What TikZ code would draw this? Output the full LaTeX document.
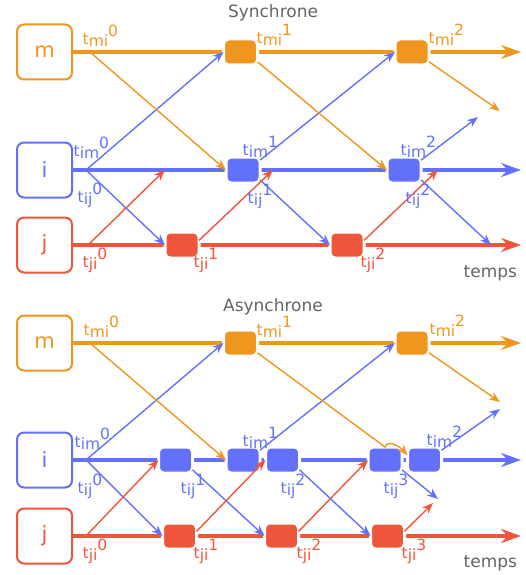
\documentclass[tikz,border=0pt]{standalone}
\usepackage{fontspec}
\setmainfont{DejaVu Sans}
\usetikzlibrary{arrows.meta}
\definecolor{orng}{RGB}{239,150,30}
\definecolor{blu}{RGB}{99,113,250}
\definecolor{rd}{RGB}{238,85,59}
\definecolor{gry}{RGB}{100,100,100}
\newcommand{\tlbl}[2]{t\raisebox{-2pt}{#1}\raisebox{8pt}{#2}}

\begin{document}
\begin{tikzpicture}[->,>={Stealth[length=11pt,width=8.5pt,inset=3.5pt]},x=1pt,y=-1pt,
                    line width=1.4pt]
  \tikzstyle{proc}=[draw,line width=2pt,fill=white,rounded corners=7pt,
                    minimum size=55pt,font=\fontsize{21}{25}\selectfont]
  \tikzstyle{evt}=[draw=white,line width=3pt,rounded corners=5pt,outer sep=0pt,
                   minimum width=34pt,minimum height=26pt,inner sep=0pt]
  \tikzstyle{tline}=[line width=4pt,-{Stealth[length=20pt,width=14pt,inset=7pt]}]
  \tikzstyle{lbl}=[anchor=base west,inner sep=0pt,font=\fontsize{15.5}{18}\selectfont]
  \tikzstyle{ttl}=[text=gry,inner sep=0pt,font=\fontsize{17}{20}\selectfont]

  \useasboundingbox (0,0) rectangle (526,575);

  % Synchrone
  \node[ttl,anchor=base]          (stitle) at (273,18)   {Synchrone};
  \node[proc,draw=orng,text=orng] (sm)     at (44.5,52)  {m};
  \node[proc,draw=blu,text=blu]   (si)     at (44.5,170) {i};
  \node[proc,draw=rd,text=rd]     (sj)     at (44.5,245) {j};
  \node[ttl,anchor=base west]     (stemps) at (463,277)  {temps};

  \coordinate (smE) at (521,52);
  \coordinate (siE) at (521,170);
  \coordinate (sjE) at (521,245);
  \draw[tline,orng] (sm) -- (smE);
  \draw[tline,blu]  (si) -- (siE);
  \draw[tline,rd]   (sj) -- (sjE);

  \node[evt,fill=orng] (sm1) at (240.5,52) {};
  \node[evt,fill=orng] (sm2) at (412,52)   {};
  \node[evt,fill=blu]  (si1) at (243,170)  {};
  \node[evt,fill=blu]  (si2) at (404,170)  {};
  \node[evt,fill=rd]   (sj1) at (182,245)  {};
  \node[evt,fill=rd]   (sj2) at (347,245)  {};

  \coordinate (sm0) at (90,52);
  \coordinate (si0) at (86,170);
  \coordinate (sj0) at (88,245);
  \coordinate (sia) at (165,170);
  \coordinate (sib) at (273,170);
  \coordinate (sic) at (438,170);
  \coordinate (smx) at (500,111);
  \coordinate (six) at (478,117);
  \coordinate (sjx) at (491,245);

  \path[blu] (si0)     edge (sm1.west)
                       edge (sj1.west)
             (si1.30)  edge (sm2.west)
             (si1.330) edge (sj2.west)
             (si2.30)  edge (six)
             (si2.330) edge (sjx);
  \path[orng] (sm0)     edge (si1.west)
              (sm1.330) edge (si2.west)
              (sm2.330) edge (smx);
  \path[rd] (sj0)    edge (sia)
            (sj1.15) edge (sib)
            (sj2.15) edge (sic);

  \node[lbl,text=orng] (lsmi0) at (82,45)   {\tlbl{mi}{0}};
  \node[lbl,text=orng] (lsmi1) at (256,44)  {\tlbl{mi}{1}};
  \node[lbl,text=orng] (lsmi2) at (428,44)  {\tlbl{mi}{2}};
  \node[lbl,text=blu]  (lsim0) at (73,156)  {\tlbl{im}{0}};
  \node[lbl,text=blu]  (lsij0) at (77,202)  {\tlbl{ij}{0}};
  \node[lbl,text=blu]  (lsim1) at (242,155) {\tlbl{im}{1}};
  \node[lbl,text=blu]  (lsij1) at (247,203) {\tlbl{ij}{1}};
  \node[lbl,text=blu]  (lsim2) at (400,155) {\tlbl{im}{2}};
  \node[lbl,text=blu]  (lsij2) at (405,203) {\tlbl{ij}{2}};
  \node[lbl,text=rd]   (lsji0) at (82,267)  {\tlbl{ji}{0}};
  \node[lbl,text=rd]   (lsji1) at (193,267) {\tlbl{ji}{1}};
  \node[lbl,text=rd]   (lsji2) at (360,267) {\tlbl{ji}{2}};

  % Asynchrone
  \node[ttl,anchor=base]          (atitle) at (273,311)  {Asynchrone};
  \node[proc,draw=orng,text=orng] (am)     at (44.5,343) {m};
  \node[proc,draw=blu,text=blu]   (ai)     at (44.5,460) {i};
  \node[proc,draw=rd,text=rd]     (aj)     at (44.5,536) {j};
  \node[ttl,anchor=base west]     (atemps) at (463,567)  {temps};

  \coordinate (amE) at (521,343);
  \coordinate (aiE) at (521,460);
  \coordinate (ajE) at (521,536);
  \draw[tline,orng] (am) -- (amE);
  \draw[tline,blu]  (ai) -- (aiE);
  \draw[tline,rd]   (aj) -- (ajE);

  \node[evt,fill=orng] (am1) at (240.5,343) {};
  \node[evt,fill=orng] (am2) at (412,343)   {};
  \node[evt,fill=blu]  (ai1) at (175.5,460) {};
  \node[evt,fill=blu]  (ai2) at (243,460)   {};
  \node[evt,fill=blu]  (ai3) at (282.5,460) {};
  \node[evt,fill=blu]  (ai4) at (385,460)   {};
  \node[evt,fill=blu]  (ai5) at (424.5,460) {};
  \node[evt,fill=rd]   (aj1) at (179.5,536) {};
  \node[evt,fill=rd]   (aj2) at (281.5,536) {};
  \node[evt,fill=rd]   (aj3) at (387.5,536) {};

  \coordinate (am0) at (90,343);
  \coordinate (ai0) at (86,460);
  \coordinate (aj0) at (86,536);
  \coordinate (amx) at (500,402);
  \coordinate (aix) at (438,499);
  \coordinate (aiy) at (500,409);
  \coordinate (ajx) at (433,503);

  \path[blu] (ai0)     edge (am1.west)
                       edge (aj1.west)
             (ai1.330) edge (aj2.west)
             (ai2.30)  edge (am2.west)
             (ai3.330) edge (aj3.west)
             (ai4.330) edge (aix)
             (ai5.30)  edge (aiy);
  \path[orng] (am0)     edge (ai2.west)
              (am2.330) edge (amx);
  \draw[orng] (am1.330) -- (ai4.north) to[out=70,in=130] (ai5.165);
  \path[rd] (aj0)    edge (ai1.west)
            (aj1.15) edge (ai3.west)
            (aj2.15) edge (ai4.west)
            (aj3.15) edge (ajx);

  \node[lbl,text=orng] (lami0) at (83,335)  {\tlbl{mi}{0}};
  \node[lbl,text=orng] (lami1) at (256,335) {\tlbl{mi}{1}};
  \node[lbl,text=orng] (lami2) at (429,334) {\tlbl{mi}{2}};
  \node[lbl,text=blu]  (laim0) at (74,447)  {\tlbl{im}{0}};
  \node[lbl,text=blu]  (laij0) at (77,493)  {\tlbl{ij}{0}};
  \node[lbl,text=blu]  (laij1) at (180,493) {\tlbl{ij}{1}};
  \node[lbl,text=blu]  (laim1) at (242,446) {\tlbl{im}{1}};
  \node[lbl,text=blu]  (laij2) at (280,493) {\tlbl{ij}{2}};
  \node[lbl,text=blu]  (laij3) at (383,493) {\tlbl{ij}{3}};
  \node[lbl,text=blu]  (laim2) at (426,445) {\tlbl{im}{2}};
  \node[lbl,text=rd]   (laji0) at (82,558)  {\tlbl{ji}{0}};
  \node[lbl,text=rd]   (laji1) at (193,558) {\tlbl{ji}{1}};
  \node[lbl,text=rd]   (laji2) at (296,558) {\tlbl{ji}{2}};
  \node[lbl,text=rd]   (laji3) at (401,558) {\tlbl{ji}{3}};
\end{tikzpicture}
\end{document}
